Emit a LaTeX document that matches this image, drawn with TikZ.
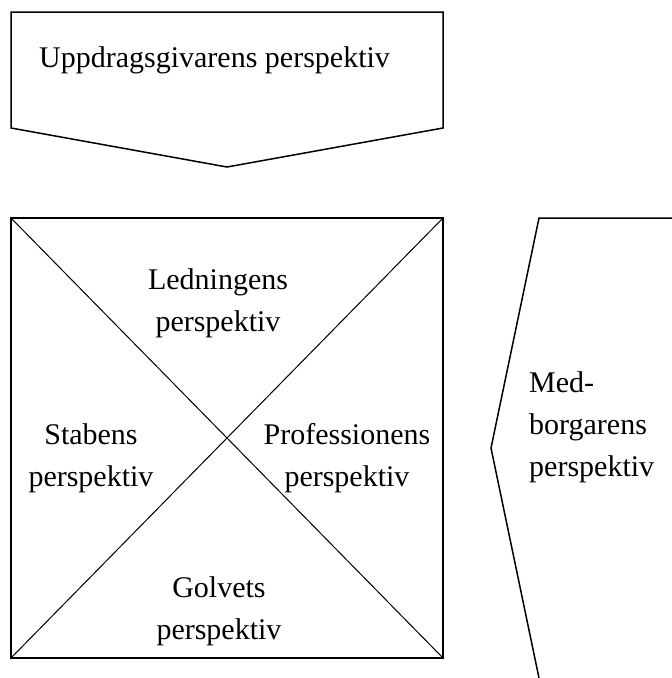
\documentclass[tikz,border=0pt]{standalone}
\usepackage{fontspec}
\setmainfont{Liberation Serif}
\begin{document}
\begin{tikzpicture}[x=1pt,y=-1pt,
  outline/.style={draw=black,line width=1.5pt,line join=miter},
  diag/.style={draw=black,line width=1pt},
  label/.style={font=\fontsize{30}{42}\selectfont,align=center,inner sep=0pt,anchor=base},
  sidelabel/.style={font=\fontsize{30}{42}\selectfont,align=left,inner sep=0pt,anchor=base west}]
  \useasboundingbox (0,0) rectangle (672,678);
  \clip (0,0) rectangle (672,678);

  % client's perspective: downward-pointing pentagon
  \draw[outline] (11,12) -- (443,12) -- (443,128) -- (227,167) -- (11,128) -- cycle;
  \node[label,anchor=base west] (client) at (39,67) {Uppdragsgivarens perspektiv};

  % the organisation square with its two diagonals
  \node[outline,minimum width=432pt,minimum height=440pt,inner sep=0pt] (org) at (227,438) {};
  \draw[diag] (org.north west) -- (org.south east);
  \draw[diag] (org.south west) -- (org.north east);

  % labels are anchored at the baseline of their last line
  \node[label] (lead) at (218,331) {Ledningens\\perspektiv};
  \node[label] (staff) at (91,486) {Stabens\\perspektiv};
  \node[label] (prof) at (347,486) {Professionens\\perspektiv};
  \node[label] (floor) at (219,639) {Golvets\\perspektiv};

  % citizen's perspective: left-pointing shape, cut by the page edge
  \draw[outline] (690,218) -- (539,218) -- (491,448) -- (539,678) -- (539,690);
  \node[sidelabel] (citizen) at (529,476) {Med-\\borgarens\\perspektiv};
\end{tikzpicture}
\end{document}
